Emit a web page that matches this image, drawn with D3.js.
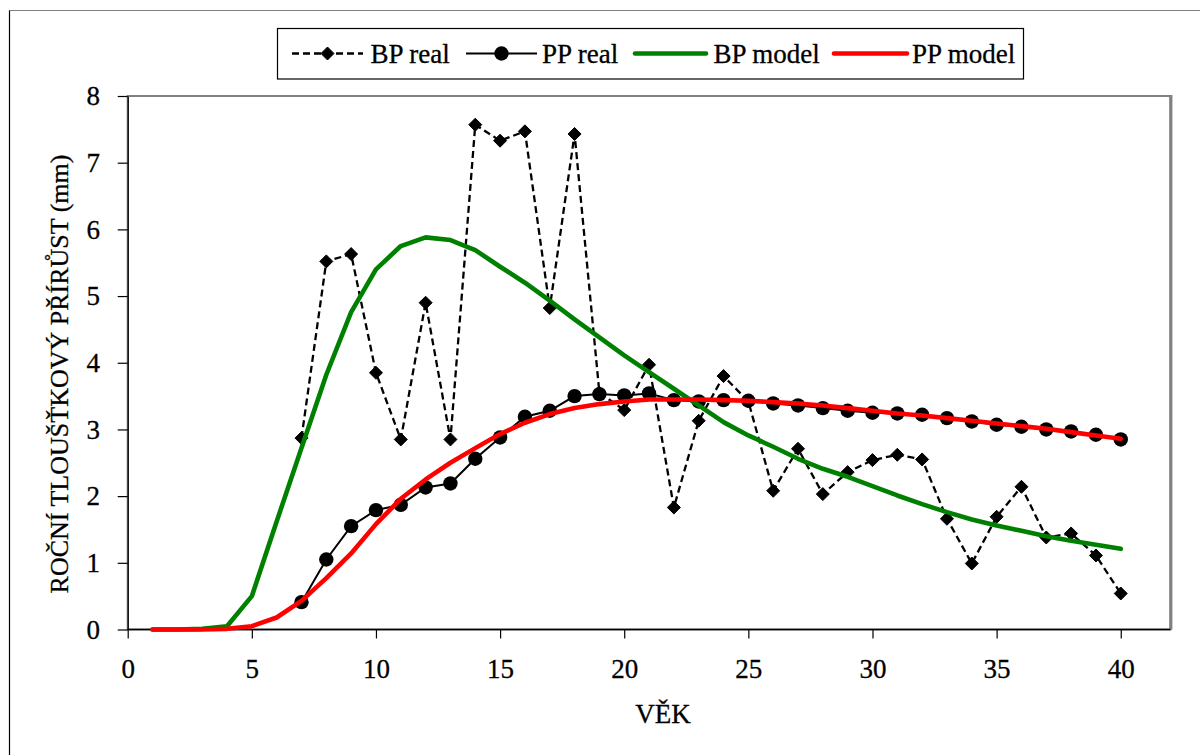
<!DOCTYPE html>
<html>
<head>
<meta charset="utf-8">
<script src="https://cdn.jsdelivr.net/npm/d3@7"></script>
<style>
  html, body { margin: 0; padding: 0; background: #fff; }
  svg { display: block; }
  text { font-family: "Liberation Serif", "Times New Roman", serif; fill: #000; stroke: #000; stroke-width: 0.3px; }
</style>
</head>
<body>
<svg id="chart" width="1200" height="755"></svg>
<script>
// Age (years) for the model curves
const modelAges = [1, 2, 3, 4, 5, 6, 7, 8, 9, 10, 11, 12, 13, 14, 15, 16, 17, 18, 19, 20,
                   21, 22, 23, 24, 25, 26, 27, 28, 29, 30, 31, 32, 33, 34, 35, 36, 37, 38, 39, 40];
// Age (years) for the measured series
const realAges = [7, 8, 9, 10, 11, 12, 13, 14, 15, 16, 17, 18, 19, 20, 21, 22, 23, 24, 25, 26,
                  27, 28, 29, 30, 31, 32, 33, 34, 35, 36, 37, 38, 39, 40];

// Measured annual diameter increment (mm)
const bpReal = [2.87, 5.52, 5.63, 3.85, 2.85, 4.90, 2.85, 7.57, 7.33, 7.47, 4.82, 7.43, 3.55, 3.29,
                3.97, 1.83, 3.13, 3.80, 3.42, 2.08, 2.71, 2.03, 2.36, 2.54, 2.62, 2.55, 1.66, 0.99,
                1.69, 2.14, 1.38, 1.44, 1.11, 0.54];
const ppReal = [0.41, 1.05, 1.55, 1.79, 1.87, 2.13, 2.19, 2.56, 2.88, 3.19, 3.28, 3.50, 3.53, 3.51,
                3.54, 3.44, 3.42, 3.44, 3.43, 3.39, 3.36, 3.32, 3.28, 3.25, 3.24, 3.22, 3.17, 3.12,
                3.07, 3.04, 3.00, 2.97, 2.92, 2.85];

// Modelled annual diameter increment (mm)
const bpModel = [0.00, 0.00, 0.01, 0.05, 0.50, 1.62, 2.72, 3.82, 4.76, 5.40, 5.75, 5.88, 5.84, 5.69,
                 5.44, 5.20, 4.93, 4.65, 4.38, 4.11, 3.86, 3.61, 3.36, 3.11, 2.91, 2.74, 2.56, 2.41,
                 2.29, 2.15, 2.01, 1.88, 1.76, 1.65, 1.56, 1.48, 1.40, 1.33, 1.27, 1.21];
const ppModel = [0.00, 0.00, 0.00, 0.01, 0.05, 0.18, 0.43, 0.77, 1.14, 1.58, 1.96, 2.25, 2.50, 2.72,
                 2.93, 3.10, 3.23, 3.32, 3.38, 3.42, 3.45, 3.45, 3.45, 3.44, 3.43, 3.41, 3.39, 3.36,
                 3.32, 3.28, 3.24, 3.21, 3.17, 3.13, 3.09, 3.05, 3.01, 2.96, 2.91, 2.86];

const xTicks = [0, 5, 10, 15, 20, 25, 30, 35, 40];
const yTicks = [0, 1, 2, 3, 4, 5, 6, 7, 8];

const seriesNames = ["BP real", "PP real", "BP model", "PP model"];
const xTitle = "VĚK";
const yTitle = "ROČNÍ TLOUŠŤKOVÝ PŘÍRŮST (mm)";

const svg = d3.select("#chart");
const FONT = 27;

const plot = { left: 127.7, right: 1170.4, top: 96, bottom: 629.5 };
const x = d3.scaleLinear().domain([0, 42]).range([plot.left, plot.right]);
const y = d3.scaleLinear().domain([0, 8]).range([plot.bottom, plot.top]);

// Outer frame (only top and left edges are visible)
svg.append("line").attr("x1", 9.5).attr("x2", 1200).attr("y1", 10.5).attr("y2", 10.5)
  .attr("stroke", "#808080").attr("stroke-width", 1.2);
svg.append("line").attr("x1", 9.5).attr("x2", 9.5).attr("y1", 10.5).attr("y2", 755)
  .attr("stroke", "#000").attr("stroke-width", 1.2);

// Plot area border
svg.append("rect")
  .attr("x", plot.left).attr("y", plot.top)
  .attr("width", plot.right - plot.left).attr("height", plot.bottom - plot.top)
  .attr("fill", "none").attr("stroke", "#808080").attr("stroke-width", 2);
svg.append("line")
  .attr("x1", plot.right + 0.5).attr("x2", plot.right + 0.5)
  .attr("y1", plot.top - 1).attr("y2", plot.bottom)
  .attr("stroke", "#808080").attr("stroke-width", 3);

// Axes
const yAxis = d3.axisLeft(y).tickValues(yTicks).tickSize(10).tickSizeOuter(0).tickPadding(17.7)
  .tickFormat(d3.format("d"));
const xAxis = d3.axisBottom(x).tickValues(xTicks).tickSize(9).tickSizeOuter(0).tickPadding(20)
  .tickFormat(d3.format("d"));

const gy = svg.append("g").attr("transform", `translate(${plot.left},0)`).call(yAxis);
const gx = svg.append("g").attr("transform", `translate(0,${plot.bottom})`).call(xAxis);
[gx, gy].forEach(g => {
  g.select(".domain").attr("stroke", "#000").attr("stroke-width", 1.3);
  g.selectAll(".tick line").attr("stroke", "#000").attr("stroke-width", 1.2);
  g.selectAll("text").attr("font-size", FONT)
    .attr("font-family", "'Liberation Serif', 'Times New Roman', serif").attr("fill", "#000");
});
gx.select(".domain").attr("d", `M${plot.left},0H${plot.right}`);

// Axis titles
svg.append("text").attr("x", 663).attr("y", 723).attr("text-anchor", "middle")
  .attr("font-size", FONT).text(xTitle);
svg.append("text").attr("transform", "translate(68,374) rotate(-90)")
  .attr("text-anchor", "middle").attr("font-size", 26).text(yTitle);

// Series
const realBP = realAges.map((a, i) => [a, bpReal[i]]);
const realPP = realAges.map((a, i) => [a, ppReal[i]]);
const modBP = modelAges.map((a, i) => [a, bpModel[i]]);
const modPP = modelAges.map((a, i) => [a, ppModel[i]]);

const line = d3.line().x(d => x(d[0])).y(d => y(d[1]));
const diamond = s => `M0,${-s}L${s},0L0,${s}L${-s},0Z`;

const gData = svg.append("g");

// BP real: dashed line with diamonds
gData.append("path").datum(realBP).attr("d", line)
  .attr("fill", "none").attr("stroke", "#000").attr("stroke-width", 2.3)
  .attr("stroke-dasharray", "7,4");
gData.append("g").selectAll("path").data(realBP).join("path")
  .attr("transform", d => `translate(${x(d[0])},${y(d[1])})`)
  .attr("d", diamond(6.5)).attr("fill", "#000")
  .attr("stroke", "#000").attr("stroke-width", 1).attr("stroke-linejoin", "round");

// PP real: solid line with circles
gData.append("path").datum(realPP).attr("d", line)
  .attr("fill", "none").attr("stroke", "#000").attr("stroke-width", 2);
gData.append("g").selectAll("circle").data(realPP).join("circle")
  .attr("cx", d => x(d[0])).attr("cy", d => y(d[1])).attr("r", 7.2).attr("fill", "#000");

// Models
gData.append("path").datum(modBP).attr("d", line)
  .attr("fill", "none").attr("stroke", "#008000").attr("stroke-width", 4.6)
  .attr("stroke-linejoin", "round").attr("stroke-linecap", "round");
gData.append("path").datum(modPP).attr("d", line)
  .attr("fill", "none").attr("stroke", "#ff0000").attr("stroke-width", 4.6)
  .attr("stroke-linejoin", "round").attr("stroke-linecap", "round");

// Legend
const legend = svg.append("g");
legend.append("rect").attr("x", 277.5).attr("y", 28.5).attr("width", 746).attr("height", 50.5)
  .attr("fill", "#fff").attr("stroke", "#000").attr("stroke-width", 1.2);
const ly = 53.5;
const items = [
  { x1: 292, x2: 363, tx: 370.5, type: "bpReal" },
  { x1: 466, x2: 537, tx: 542, type: "ppReal" },
  { x1: 635, x2: 706, tx: 713.6, type: "bpModel" },
  { x1: 834, x2: 907, tx: 912, type: "ppModel" }
];
items.forEach((it, i) => {
  const g = legend.append("g");
  const cx = (it.x1 + it.x2) / 2;
  if (it.type === "bpReal") {
    g.append("line").attr("x1", it.x1).attr("x2", it.x2).attr("y1", ly).attr("y2", ly)
      .attr("stroke", "#000").attr("stroke-width", 2.3).attr("stroke-dasharray", "7,4");
    g.append("path").attr("transform", `translate(${cx},${ly})`).attr("d", diamond(6.5))
      .attr("fill", "#000").attr("stroke", "#000").attr("stroke-width", 1).attr("stroke-linejoin", "round");
  } else if (it.type === "ppReal") {
    g.append("line").attr("x1", it.x1).attr("x2", it.x2).attr("y1", ly).attr("y2", ly)
      .attr("stroke", "#000").attr("stroke-width", 2);
    g.append("circle").attr("cx", cx).attr("cy", ly).attr("r", 7.2).attr("fill", "#000");
  } else {
    g.append("line").attr("x1", it.x1).attr("x2", it.x2).attr("y1", ly).attr("y2", ly)
      .attr("stroke", it.type === "bpModel" ? "#008000" : "#ff0000").attr("stroke-width", 4.6)
      .attr("stroke-linecap", "round");
  }
  g.append("text").attr("x", it.tx).attr("y", 62.7).attr("font-size", FONT).text(seriesNames[i]);
});
</script>
</body>
</html>
